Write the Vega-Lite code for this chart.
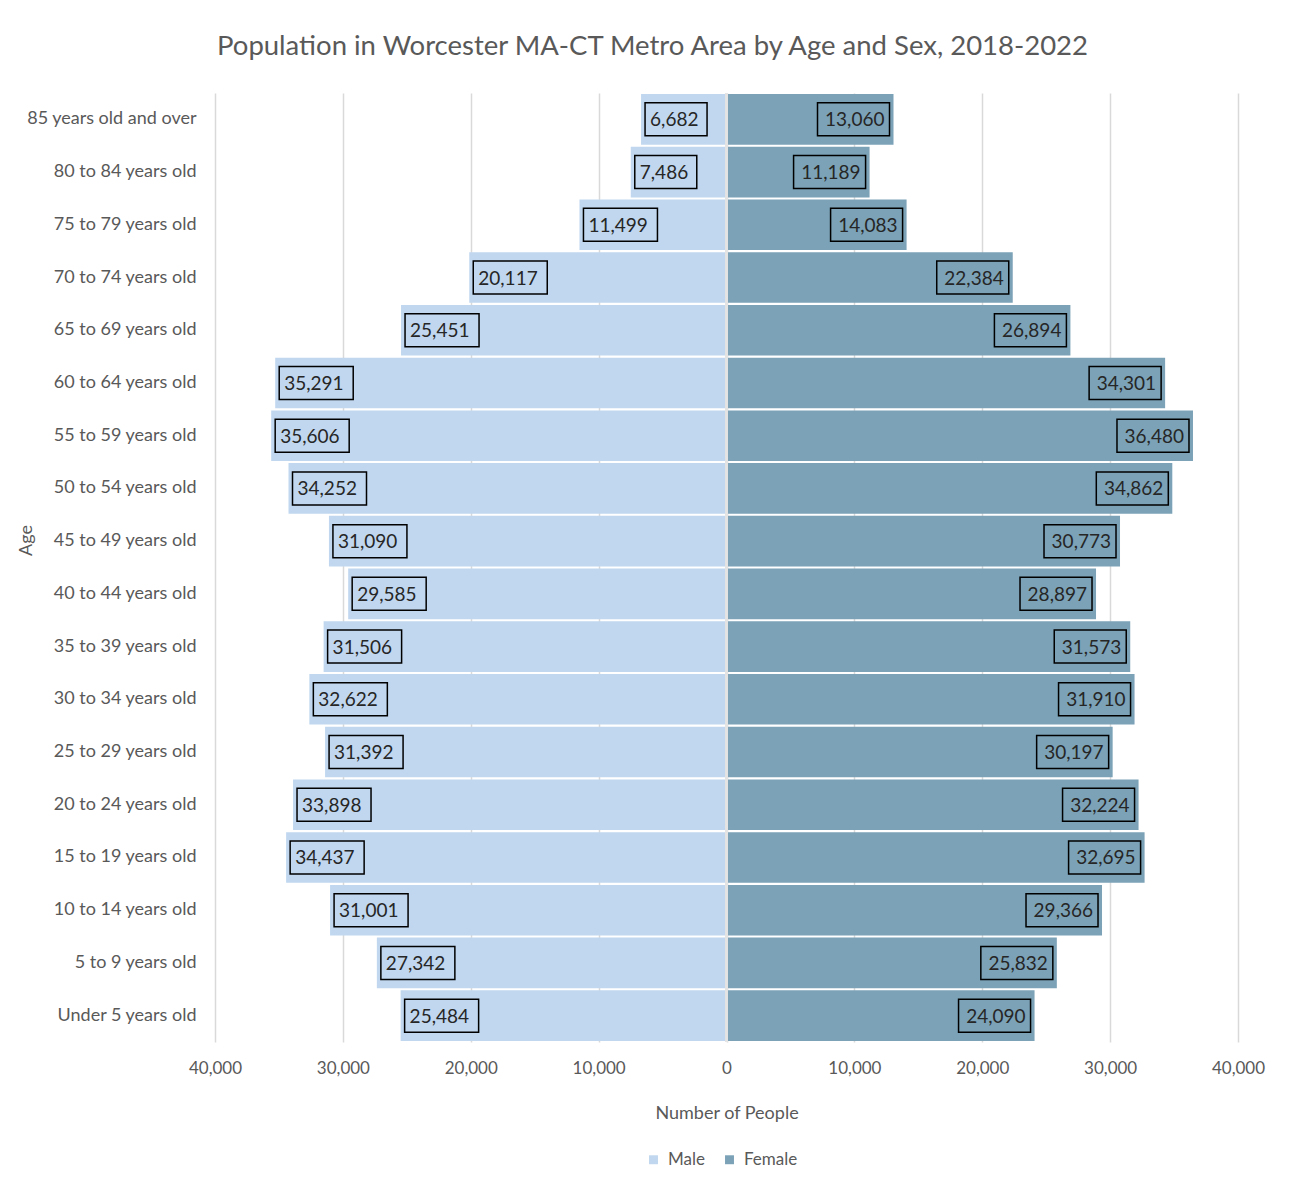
{
  "$schema": "https://vega.github.io/schema/vega-lite/v6.json",
  "width": 1023,
  "height": 949,
  "autosize": {"type": "none"},
  "padding": {"left": 215, "top": 93, "right": 65, "bottom": 143},
  "background": "white",
  "config": {"view": {"stroke": null}, "font": "Lato"},
  "title": {
    "text": "Population in Worcester MA-CT Metro Area by Age and Sex, 2018-2022",
    "fontSize": 27.5, "font": "Lato", "fontWeight": "normal", "color": "#595959",
    "dx": -74, "offset": 32
  },
  "data": {
    "values": [
      {"age": "85 years old and over", "sex": "Male", "people": 6682},
      {"age": "85 years old and over", "sex": "Female", "people": 13060},
      {"age": "80 to 84 years old", "sex": "Male", "people": 7486},
      {"age": "80 to 84 years old", "sex": "Female", "people": 11189},
      {"age": "75 to 79 years old", "sex": "Male", "people": 11499},
      {"age": "75 to 79 years old", "sex": "Female", "people": 14083},
      {"age": "70 to 74 years old", "sex": "Male", "people": 20117},
      {"age": "70 to 74 years old", "sex": "Female", "people": 22384},
      {"age": "65 to 69 years old", "sex": "Male", "people": 25451},
      {"age": "65 to 69 years old", "sex": "Female", "people": 26894},
      {"age": "60 to 64 years old", "sex": "Male", "people": 35291},
      {"age": "60 to 64 years old", "sex": "Female", "people": 34301},
      {"age": "55 to 59 years old", "sex": "Male", "people": 35606},
      {"age": "55 to 59 years old", "sex": "Female", "people": 36480},
      {"age": "50 to 54 years old", "sex": "Male", "people": 34252},
      {"age": "50 to 54 years old", "sex": "Female", "people": 34862},
      {"age": "45 to 49 years old", "sex": "Male", "people": 31090},
      {"age": "45 to 49 years old", "sex": "Female", "people": 30773},
      {"age": "40 to 44 years old", "sex": "Male", "people": 29585},
      {"age": "40 to 44 years old", "sex": "Female", "people": 28897},
      {"age": "35 to 39 years old", "sex": "Male", "people": 31506},
      {"age": "35 to 39 years old", "sex": "Female", "people": 31573},
      {"age": "30 to 34 years old", "sex": "Male", "people": 32622},
      {"age": "30 to 34 years old", "sex": "Female", "people": 31910},
      {"age": "25 to 29 years old", "sex": "Male", "people": 31392},
      {"age": "25 to 29 years old", "sex": "Female", "people": 30197},
      {"age": "20 to 24 years old", "sex": "Male", "people": 33898},
      {"age": "20 to 24 years old", "sex": "Female", "people": 32224},
      {"age": "15 to 19 years old", "sex": "Male", "people": 34437},
      {"age": "15 to 19 years old", "sex": "Female", "people": 32695},
      {"age": "10 to 14 years old", "sex": "Male", "people": 31001},
      {"age": "10 to 14 years old", "sex": "Female", "people": 29366},
      {"age": "5 to 9 years old", "sex": "Male", "people": 27342},
      {"age": "5 to 9 years old", "sex": "Female", "people": 25832},
      {"age": "Under 5 years old", "sex": "Male", "people": 25484},
      {"age": "Under 5 years old", "sex": "Female", "people": 24090}
    ]
  },
  "transform": [
    {"calculate": "datum.sex === 'Male' ? -datum.people : datum.people", "as": "signed"}
  ],
  "encoding": {
    "x": {
      "field": "signed", "type": "quantitative",
      "scale": {"domain": [-40000, 40000], "nice": false},
      "axis": {
        "values": [-40000, -30000, -20000, -10000, 0, 10000, 20000, 30000, 40000],
        "labelExpr": "format(abs(datum.value), ',')",
        "labelFlush": false,
        "grid": true, "gridColor": "#d9d9d9", "gridWidth": 1.5,
        "domain": false, "ticks": false,
        "labelFontSize": 17, "labelColor": "#595959", "labelPadding": 18, "labelFont": "Lato",
        "title": "Number of People", "titleFontSize": 18, "titleFontWeight": "normal",
        "titleColor": "#595959", "titlePadding": 28, "titleFont": "Lato"
      }
    },
    "y": {
      "field": "age", "type": "nominal",
      "sort": ["85 years old and over", "80 to 84 years old", "75 to 79 years old", "70 to 74 years old", "65 to 69 years old", "60 to 64 years old", "55 to 59 years old", "50 to 54 years old", "45 to 49 years old", "40 to 44 years old", "35 to 39 years old", "30 to 34 years old", "25 to 29 years old", "20 to 24 years old", "15 to 19 years old", "10 to 14 years old", "5 to 9 years old", "Under 5 years old"],
      "scale": {"paddingInner": 0.04, "paddingOuter": 0.02},
      "axis": {
        "domain": false, "ticks": false,
        "labelFontSize": 18, "labelColor": "#595959", "labelPadding": 19, "labelFont": "Lato",
        "title": "Age", "titleFontSize": 18, "titleFontWeight": "normal", "titleColor": "#595959",
        "titleFont": "Lato", "titleX": -180, "titleY": 447, "titleAngle": -90
      }
    }
  },
  "layer": [
    {
      "mark": {"type": "bar"},
      "encoding": {
        "color": {
          "field": "sex", "type": "nominal",
          "scale": {"domain": ["Male", "Female"], "range": ["#C0D7EF", "#7BA2B7"]},
          "legend": {
            "orient": "none", "legendX": 430, "legendY": 1058,
            "direction": "horizontal", "title": null,
            "symbolType": "square", "symbolSize": 80, "symbolStrokeWidth": 0,
            "labelFontSize": 17, "labelColor": "#595959", "labelFont": "Lato",
            "columnPadding": 16, "labelOffset": 6
          }
        }
      }
    },
    {
      "mark": {"type": "rule", "color": "#e4e4e4", "strokeWidth": 2},
      "encoding": {"x": {"datum": 0}, "y": null}
    },
    {
      "transform": [{"filter": "datum.sex === 'Male' && datum.people >= 10000"}],
      "mark": {"type": "point", "shape": "M4,-16.5H78V16.5H4Z", "size": 4, "filled": true, "fill": "#C0D7EF", "stroke": "#000000", "strokeWidth": 1.5, "opacity": 1}
    },
    {
      "transform": [{"filter": "datum.sex === 'Male' && datum.people < 10000"}],
      "mark": {"type": "point", "shape": "M4,-16.5H66V16.5H4Z", "size": 4, "filled": true, "fill": "#C0D7EF", "stroke": "#000000", "strokeWidth": 1.5, "opacity": 1}
    },
    {
      "transform": [{"filter": "datum.sex === 'Female'"}],
      "mark": {"type": "point", "shape": "M-4,-16.5H-76V16.5H-4Z", "size": 4, "filled": true, "fill": "#7BA2B7", "stroke": "#000000", "strokeWidth": 1.5, "opacity": 1}
    },
    {
      "transform": [{"filter": "datum.sex === 'Male'"}],
      "mark": {"type": "text", "align": "left", "baseline": "middle", "dx": 9, "dy": 1, "fontSize": 19, "font": "Lato", "color": "#262626"},
      "encoding": {"text": {"field": "people", "type": "quantitative", "format": ","}}
    },
    {
      "transform": [{"filter": "datum.sex === 'Female'"}],
      "mark": {"type": "text", "align": "right", "baseline": "middle", "dx": -9, "dy": 1, "fontSize": 19, "font": "Lato", "color": "#262626"},
      "encoding": {"text": {"field": "people", "type": "quantitative", "format": ","}}
    }
  ]
}
